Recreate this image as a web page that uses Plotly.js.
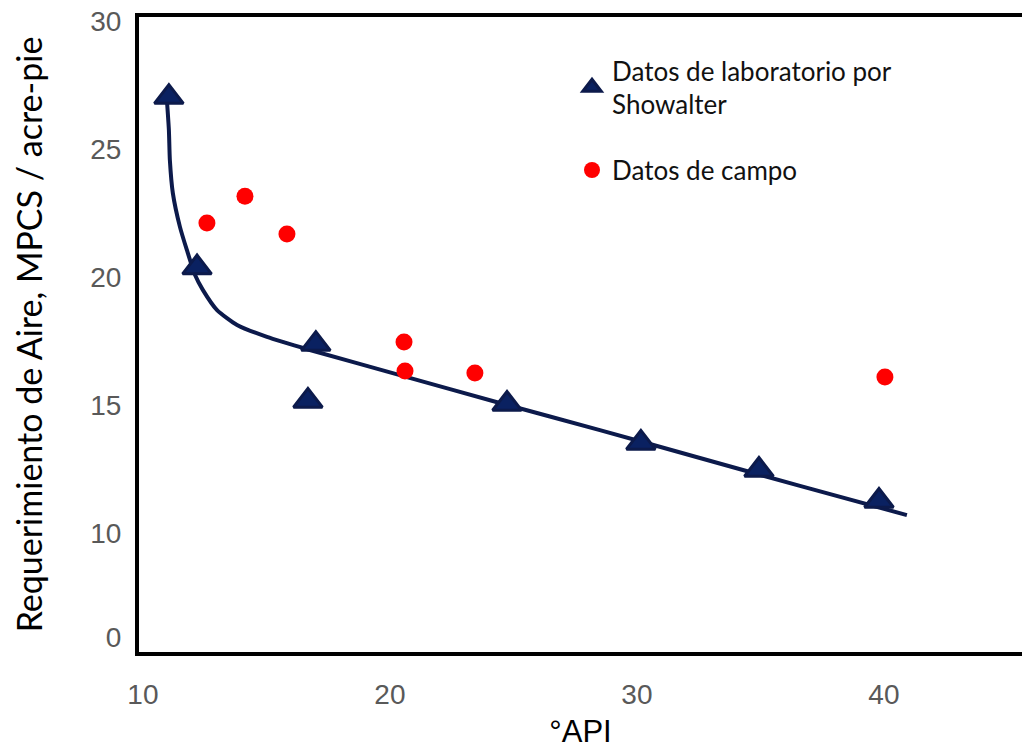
<!DOCTYPE html>
<html>
<head>
<meta charset="utf-8">
<script src="https://cdn.plot.ly/plotly-3.0.1.min.js"></script>
<style>html,body{margin:0;padding:0;background:#fff;}#chart{width:1022px;height:749px;}</style>
</head>
<body>
<div id="chart"></div>
<script>
// Datos de laboratorio por Showalter
const labAPI = [11.05, 12.19, 17.00, 16.68, 24.74, 30.16, 34.94, 39.80];
const labAire = [27.03, 20.37, 17.38, 15.16, 15.04, 13.52, 12.46, 11.25];

// Datos de campo
const campoAPI = [12.59, 14.13, 15.83, 20.57, 20.61, 23.44, 40.04];
const campoAire = [22.11, 23.16, 21.68, 17.46, 16.33, 16.25, 16.09];

// Curva de tendencia
const curvaAPI = [10.97, 11.05, 11.09, 11.21, 11.50, 11.78, 12.11, 12.43, 13.00, 13.81, 15.02, 16.76, 20.40, 24.45, 28.50, 32.55, 36.60, 40.93];
const curvaAire = [26.91, 25.74, 24.57, 23.28, 21.95, 21.05, 20.08, 19.49, 18.71, 18.13, 17.66, 17.15, 16.17, 15.08, 14.02, 12.93, 11.84, 10.70];

// Etiquetas de ejes
const xTicks = [10, 20, 30, 40];
const yTickVals = [5.94, 10, 15, 20, 25, 30];
const yTickText = ['0', '10', '15', '20', '25', '30'];

const navy = '#0c1a4b';
const titleFont = {family: 'Lato, "Open Sans", sans-serif', size: 34, color: '#000'};

const traces = [
  {
    x: curvaAPI, y: curvaAire, type: 'scatter', mode: 'lines',
    line: {color: navy, width: 4, shape: 'spline', smoothing: 0.6},
    showlegend: false, hoverinfo: 'skip'
  },
  {
    x: labAPI, y: labAire, type: 'scatter', mode: 'markers',
    name: 'Datos de laboratorio por<br>Showalter', legendgroup: 'a',
    marker: {symbol: 'triangle-up', size: 25, color: '#0a2161', line: {color: navy, width: 3}}
  },
  {
    x: campoAPI, y: campoAire, type: 'scatter', mode: 'markers',
    name: 'Datos de campo', legendgroup: 'b',
    marker: {symbol: 'circle', size: 17, color: '#ff0000', line: {width: 0}}
  }
];

const layout = {
  width: 1022, height: 749,
  margin: {l: 139, r: 0, t: 17, b: 97, pad: 0},
  paper_bgcolor: '#fff', plot_bgcolor: '#fff',
  showlegend: true,
  legend: {
    x: (572 - 139) / (1022 - 139), y: (749 - 97 - 47) / (749 - 97 - 17), xanchor: 'left', yanchor: 'top',
    bgcolor: 'rgba(0,0,0,0)', borderwidth: 0,
    font: {family: 'Lato, "Open Sans", sans-serif', size: 26, color: '#111'},
    tracegroupgap: 29, itemsizing: 'trace'
  },
  xaxis: {
    range: [9.84, 45.59], tickvals: xTicks,
    showgrid: false, zeroline: false,
    showline: true, linecolor: '#000', linewidth: 4, mirror: true,
    ticks: '', ticklabelstandoff: 14,
    tickfont: {family: '"Liberation Sans", Arial, sans-serif', size: 28, color: '#595959'},
    title: {text: '°API', font: {family: '"Liberation Sans Narrow", "Liberation Sans", Arial, sans-serif', size: 31, color: '#000'}, standoff: 15}
  },
  yaxis: {
    range: [5.35, 30.16], tickvals: yTickVals, ticktext: yTickText,
    showgrid: false, zeroline: false,
    showline: true, linecolor: '#000', linewidth: 4, mirror: false,
    ticks: '', ticklabelstandoff: 8,
    tickfont: {family: '"Liberation Sans", Arial, sans-serif', size: 28, color: '#595959'},
    title: {text: 'Requerimiento de Aire, MPCS / acre-pie', font: titleFont, standoff: 38}
  }
};

Plotly.newPlot('chart', traces, layout, {staticPlot: true, displayModeBar: false});
</script>
</body>
</html>
